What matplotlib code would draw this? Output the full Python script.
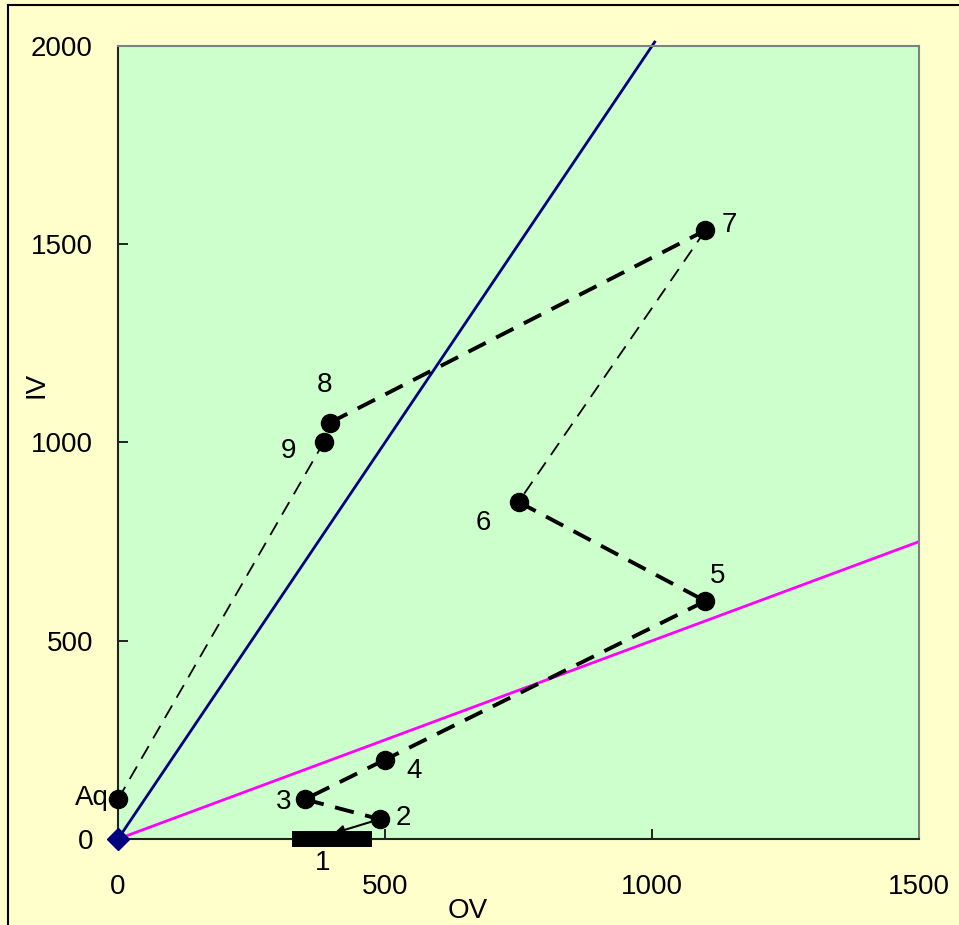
import matplotlib.pyplot as plt
from matplotlib.lines import Line2D

plt.rcParams['font.family'] = ['Liberation Sans', 'DejaVu Sans']

# sample points (OV, IV)
labels = ['Aq', '9', '8', '7', '6', '5', '4', '3', '2']
ov = [0, 385, 397, 1100, 750, 1100, 500, 350, 490]
iv = [100, 1000, 1050, 1535, 850, 600, 200, 100, 50]
# line style of each segment between consecutive points
seg_style = ['thin', 'none', 'thick', 'thin', 'thick', 'thick', 'thick', 'thick']

# sample 1 shown as a range on the OV axis, with arrow from 2
p1_range = [325, 475]
p1_arrow_end = (405, 15)

# reference lines
blue_x = [0, 1005]
blue_y = [0, 2010]
pink_x = [0, 1500]
pink_y = [0, 750]

fig = plt.figure(figsize=(9.59, 9.25), dpi=100, facecolor='#FFFFCC')
ax = fig.add_axes([118 / 959, 86 / 925, 801 / 959, 793 / 925])
ax.set_facecolor('#CCFFCC')

ax.plot(blue_x, blue_y, color='#000080', lw=2, clip_on=False, zorder=2)
ax.plot(pink_x, pink_y, color='#FF00FF', lw=2, zorder=2)
ax.plot([0], [0], marker='D', color='#000080', ms=11, clip_on=False, zorder=5)

for i, st in enumerate(seg_style):
    xs = ov[i:i + 2]
    ys = iv[i:i + 2]
    if st == 'thick':
        ax.plot(xs, ys, color='black', lw=2.8, dashes=(5, 3), zorder=3)
    elif st == 'thin':
        ax.plot(xs, ys, color='black', lw=1.3, dashes=(8, 5), zorder=3)

ax.plot(ov, iv, 'o', color='black', ms=13, ls='none', clip_on=False, zorder=4)

ax.plot(p1_range, [0, 0], color='black', lw=11.5, solid_capstyle='butt',
        clip_on=False, zorder=4)
ax.annotate('', xy=p1_arrow_end, xytext=(ov[-1], iv[-1]),
            arrowprops=dict(arrowstyle='-|>', color='black', lw=1.5,
                            mutation_scale=14, shrinkA=0, shrinkB=0),
            zorder=5, annotation_clip=False)

# point labels (offsets in points)
offsets = {'Aq': (-19, 1), '9': (-25, -6), '8': (-4, 27), '7': (17, 4),
           '6': (-25, -15), '5': (9, 18), '4': (21, -8), '3': (-15, -2),
           '2': (17, 1)}
for lab, x, y in zip(labels, ov, iv):
    ax.annotate(lab, (x, y), xytext=offsets[lab], textcoords='offset points',
                ha='center', va='center', fontsize=20, annotation_clip=False)
ax.annotate('1', (400, 0), xytext=(-6.5, -17), textcoords='offset points',
            ha='center', va='center', fontsize=20, annotation_clip=False)

ax.set_xlim(0, 1500)
ax.set_ylim(0, 2000)
ax.set_xticks([0, 500, 1000, 1500])
ax.set_yticks([0, 500, 1000, 1500, 2000])
ax.tick_params(axis='x', direction='in', length=7, width=1.2, pad=25, labelsize=20)
ax.tick_params(axis='y', direction='in', length=7, width=1.2, pad=18, labelsize=20)

for side in ['top', 'right']:
    ax.spines[side].set_color('#808080')
    ax.spines[side].set_linewidth(1.5)
for side in ['left', 'bottom']:
    ax.spines[side].set_color('#222222')
    ax.spines[side].set_linewidth(1.5)

ax.set_xlabel('OV', fontsize=20)
ax.set_ylabel('IV', fontsize=20)
ax.xaxis.set_label_coords(0.437, -0.075)
ax.yaxis.set_label_coords(-0.085, 0.573)

# outer chart frame
fig.add_artist(Line2D([8 / 959, 1], [1 - 5 / 925, 1 - 5 / 925], color='black', lw=1.5))
fig.add_artist(Line2D([8 / 959, 8 / 959], [0, 1 - 5 / 925], color='black', lw=1.5))

fig.savefig('out.png', dpi=100, facecolor=fig.get_facecolor())
